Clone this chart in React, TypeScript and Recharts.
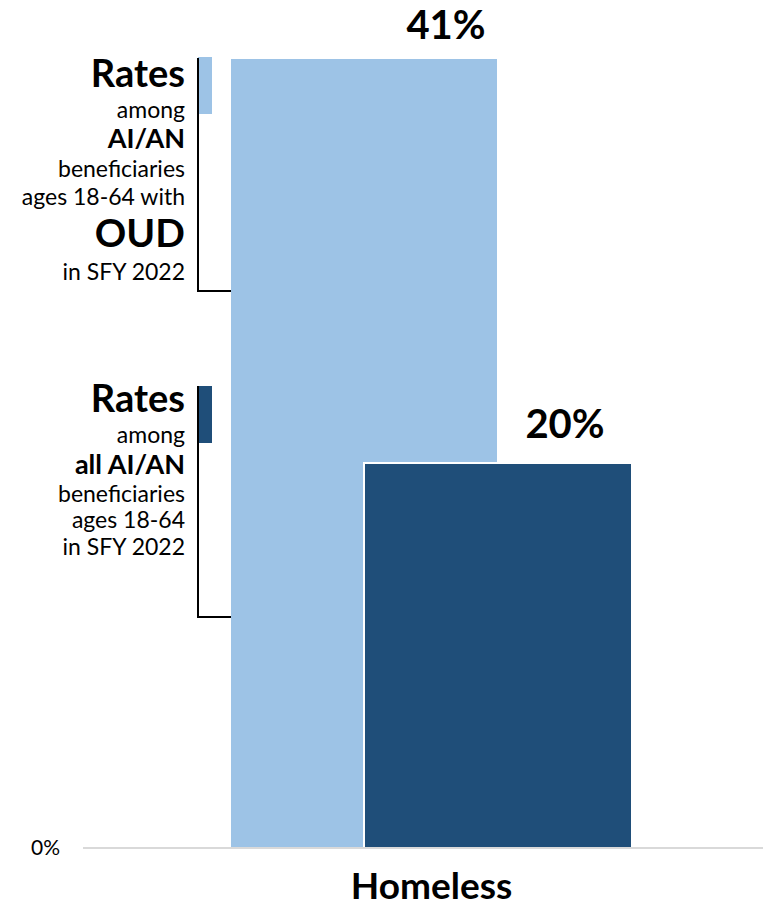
import React from "react";
import { BarChart, Bar, XAxis, YAxis, Customized } from "recharts";

const categories = ["Homeless"];
const oudRates = [41];
const allRates = [20];
const yTicks = [0];

const LIGHT = "#9DC3E6";
const DARK = "#1F4E79";
const FONT = "Lato, 'Open Sans', sans-serif";

const data = categories.map((name, i) => ({ name, oud: oudRates[i], all: allRates[i] }));

type LabelProps = { x?: number; y?: number; width?: number; value?: number };

const valueLabel = (dx: number, dy: number) => (p: LabelProps) => (
  <text
    x={(p.x ?? 0) + (p.width ?? 0) / 2 + dx}
    y={(p.y ?? 0) - dy}
    textAnchor="middle"
    fontFamily={FONT}
    fontWeight={700}
    fontSize={40}
    fill="#000"
  >
    {`${p.value}%`}
  </text>
);

type Line = { text: string; y: number; size: number; bold?: boolean };

// legend blocks on the left, right aligned against the bracket
const oudLegend: Line[] = [
  { text: "Rates", y: 87, size: 38, bold: true },
  { text: "among", y: 118, size: 23 },
  { text: "AI/AN", y: 148, size: 27, bold: true },
  { text: "beneficiaries", y: 177, size: 23 },
  { text: "ages 18-64 with", y: 205, size: 23 },
  { text: "OUD", y: 247, size: 39, bold: true },
  { text: "in SFY 2022", y: 280, size: 23 },
];

const allLegend: Line[] = [
  { text: "Rates", y: 412, size: 38, bold: true },
  { text: "among", y: 443, size: 23 },
  { text: "all AI/AN", y: 474, size: 27, bold: true },
  { text: "beneficiaries", y: 502, size: 23 },
  { text: "ages 18-64", y: 528, size: 23 },
  { text: "in SFY 2022", y: 555, size: 23 },
];

function Annotations() {
  const lines = [...oudLegend, ...allLegend];
  return (
    <g>
      {lines.map((l, i) => (
        <text key={i} x={185} y={l.y} textAnchor="end" fontFamily={FONT} fontSize={l.size} fontWeight={l.bold ? 700 : 400} fill="#000">
          {l.text}
        </text>
      ))}
      <rect x={198} y={57} width={14} height={57} fill={LIGHT} />
      <rect x={198} y={386} width={14} height={57} fill={DARK} />
      <path d="M198,58 V291 H231" fill="none" stroke="#000" strokeWidth={2} />
      <path d="M231,291 H262" fill="none" stroke="#fff" strokeWidth={2} />
      <path d="M198,386 V617 H362" fill="none" stroke="#000" strokeWidth={2} />
      <path d="M362,617 H412" fill="none" stroke="#fff" strokeWidth={2} />
    </g>
  );
}

export default function App() {
  return (
    <div style={{ position: "absolute", left: 0, top: 0, background: "#fff" }}>
      <BarChart width={763} height={908} data={data} margin={{ top: 59, right: 0, left: 0, bottom: 0 }} barGap={-133}>
        <XAxis
          dataKey="name"
          height={60}
          padding={{ left: 17, right: 0 }}
          axisLine={{ stroke: "#D9D9D9", strokeWidth: 2 }}
          tickLine={false}
          tickSize={0}
          tickMargin={0}
          tick={(p: any) => (
            <text x={p.x} y={p.y + 51} textAnchor="middle" fontFamily={FONT} fontWeight={700} fontSize={37} fill="#000">
              {p.payload.value}
            </text>
          )}
        />
        <YAxis
          width={83}
          domain={[0, 41]}
          ticks={yTicks}
          axisLine={false}
          tickLine={false}
          tickSize={0}
          tickMargin={0}
          tick={(p: any) => (
            <text x={p.x - 23} y={p.y + 7} textAnchor="end" fontFamily={FONT} fontSize={21} fill="#000">
              {`${p.payload.value}%`}
            </text>
          )}
        />
        <Bar dataKey="oud" fill={LIGHT} barSize={266} isAnimationActive={false} label={valueLabel(82, 20)} />
        <Bar dataKey="all" fill={DARK} barSize={268} stroke="#fff" strokeWidth={2} isAnimationActive={false} label={valueLabel(67, 25)} />
        <Customized component={Annotations} />
      </BarChart>
    </div>
  );
}
